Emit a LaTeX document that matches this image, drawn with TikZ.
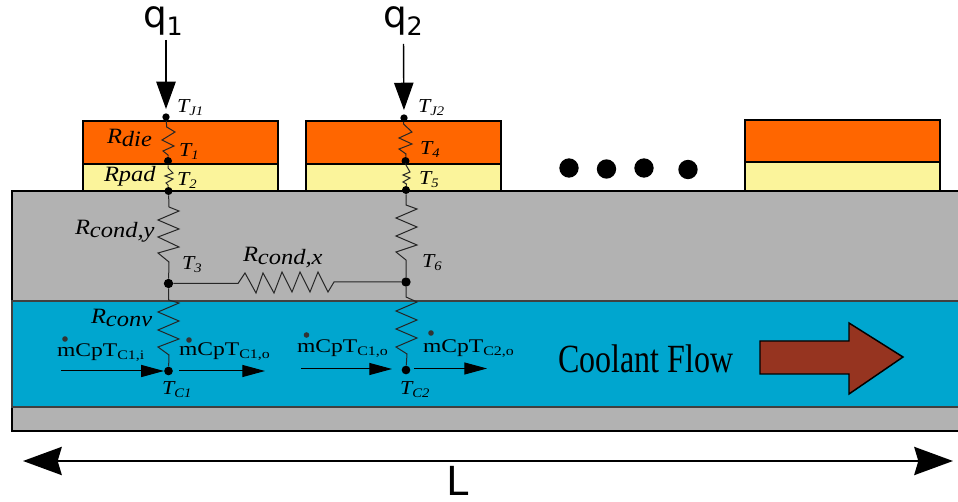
\documentclass[tikz,border=0pt]{standalone}
\usepackage{fontspec}
\usetikzlibrary{arrows.meta}
\setmainfont{Liberation Serif}
\newfontfamily\lab[FakeStretch=1.22]{Liberation Serif}
\newfontfamily\labr[FakeStretch=1.12]{Liberation Serif}
\newfontfamily\flowf[FakeStretch=0.8]{Liberation Serif}
\newfontfamily\djsans{DejaVu Sans}
\newcommand{\Rl}[2]{{\labr\itshape\fontsize{16.4}{16}\selectfont #1\raisebox{-2pt}{\fontsize{16.4}{16}\selectfont #2}}}
\newcommand{\Tl}[2]{{\labr\itshape\fontsize{14.8}{15}\selectfont #1\raisebox{-2.2pt}{\fontsize{9.8}{10}\selectfont #2}}}
\newcommand{\Ml}[1]{{\lab\fontsize{14.5}{15}\selectfont mCpT\raisebox{-2.2pt}{\fontsize{9.8}{10}\selectfont #1}}}
\newcommand{\Ql}[1]{{\djsans\fontsize{28}{28}\selectfont q\raisebox{-6pt}{\fontsize{19}{19}\selectfont #1}}}
\definecolor{orangeC}{HTML}{FF6600}
\definecolor{yellowC}{HTML}{FBF49B}
\definecolor{grayC}{HTML}{B2B2B2}
\definecolor{blueC}{HTML}{00A6CF}
\definecolor{brownC}{HTML}{963420}
\tikzset{
  body/.style={draw=black,line width=2.2pt},
  thinbody/.style={draw=black!75,line width=1pt},
  res/.style={draw=black!85,line width=0.75pt,line join=miter},
  junc/.style={circle,fill=black,inner sep=0pt,minimum size=#1},
  junc/.default=6pt,
  bigdot/.style={circle,fill=black,inner sep=0pt,minimum size=14.5pt},
  mdot/.style={circle,fill=black!80,inner sep=0pt,minimum size=4.2pt},
  lbl/.style={anchor=base west,inner sep=0pt,outer sep=0pt},
  heat/.style={draw=black,line width=1.1pt,-{Triangle[length=20.5pt,width=14.5pt]},shorten >=3pt},
  flowar/.style={draw=black,line width=0.75pt,-{Triangle[length=17pt,width=9pt]}},
  span/.style={draw=black,line width=2.2pt,{Stealth[length=29pt,width=21pt,inset=3pt]}-{Stealth[length=29pt,width=21pt,inset=3pt]}}
}
\begin{document}
\begin{tikzpicture}[x=0.75pt,y=-0.75pt]
\useasboundingbox (0,0) rectangle (958,502);
\clip (0,0) rectangle (958,502);
% substrate and coolant
\path[fill=grayC,body] (12,191) rectangle (975,431);
\path[fill=blueC,thinbody] (12,301) rectangle (975,407);
% chips
\path[fill=orangeC,body] (83,121) rectangle (278,164);
\path[fill=yellowC,body] (83,164) rectangle (278,191);
\path[fill=orangeC,body] (306,121) rectangle (501,164);
\path[fill=yellowC,body] (306,164) rectangle (501,191);
\path[fill=orangeC,body] (745,120) rectangle (940,162);
\path[fill=yellowC,body] (745,162) rectangle (940,191);
\draw[body] (12,431) -- (975,431);
% dots
\node[bigdot] (d1) at (569,168) {};
\node[bigdot] (d2) at (606.5,169) {};
\node[bigdot] (d3) at (644,168) {};
\node[bigdot] (d4) at (688,169.5) {};
% junctions
\node[junc=5.5pt] (TJ1) at (166,117) {};
\node[junc] (T1) at (168,161) {};
\node[junc] (T2) at (168.5,191) {};
\node[junc=7pt] (T3) at (168.5,283.5) {};
\node[junc=6.5pt] (TC1) at (168.5,371) {};
\node[junc=5.5pt] (TJ2) at (404,118) {};
\node[junc] (T4) at (405.5,161) {};
\node[junc] (T5) at (406,190) {};
\node[junc=7pt] (T6) at (406,282) {};
\node[junc=6.5pt] (TC2) at (406,370) {};
% resistors
\draw[res] (TJ1) -- (166.7,127) -- (175,132) -- (162,140) -- (174,146) -- (163,151) -- (168,155) -- (T1);
\draw[res] (T1) -- (168,168) -- (173,173) -- (165,176) -- (173,179) -- (166,183) -- (168,185) -- (T2);
\draw[res] (T2) -- (169,207) -- (179,211) -- (158,220) -- (179,229) -- (158,237) -- (179,247) -- (158,253) -- (169,262) -- (T3);
\draw[res] (T3) -- (168.5,300) -- (179,303) -- (158,312) -- (179,321) -- (158,330) -- (179,339) -- (158,347) -- (169,355) -- (TC1);
\draw[res] (T3) -- (238,283.5) -- (245,273) -- (256,293) -- (263,273) -- (274,293) -- (282,272) -- (292,292) -- (300,272) -- (310,292) -- (318,272) -- (328,292) -- (334,282) -- (T6);
\draw[res] (TJ2) -- (403.5,124) -- (412,132) -- (399,138) -- (412,144) -- (399,149) -- (406,154) -- (T4);
\draw[res] (T4) -- (406,165) -- (410,172) -- (403,175) -- (410,178) -- (403,182) -- (406.5,184) -- (T5);
\draw[res] (T5) -- (406,205) -- (417,209) -- (396,218) -- (417,227) -- (396,236) -- (417,245) -- (396,252) -- (406,260) -- (T6);
\draw[res] (T6) -- (406,297) -- (417,302) -- (396,311) -- (417,320) -- (396,329) -- (417,338) -- (396,347) -- (407,354) -- (TC2);
% heat arrows
\coordinate (q1s) at (166,40);
\coordinate (q2s) at (403.5,44);
\draw[heat] (q1s) -- (TJ1);
\draw[heat] (q2s) -- (TJ2);
\node[lbl] (q1) at (143,28) {\Ql{1}};
\node[lbl] (q2) at (383,28) {\Ql{2}};
% flow arrows
\coordinate (f1) at (61,371);
\coordinate (f2) at (179,371);
\coordinate (f2e) at (265,371);
\coordinate (f3) at (301,369);
\coordinate (f3e) at (392,369);
\coordinate (f4) at (414,368.5);
\coordinate (f4e) at (487,368.5);
\draw[flowar] (f1) -- (TC1);
\draw[flowar] (f2) -- (f2e);
\draw[flowar] (f3) -- (f3e);
\draw[flowar] (f4) -- (f4e);
% labels
\node[lbl] (lJ1) at (177,113) {\Tl{T}{J1}};
\node[lbl] (l1) at (179,157) {\Tl{T}{1}};
\node[lbl] (l2) at (177,186) {\Tl{T}{2}};
\node[lbl] (lJ2) at (418,113) {\Tl{T}{J2}};
\node[lbl] (l4) at (420,155) {\Tl{T}{4}};
\node[lbl] (l5) at (419,185) {\Tl{T}{5}};
\node[lbl] (l3) at (182,270) {\Tl{T}{3}};
\node[lbl] (l6) at (422,268) {\Tl{T}{6}};
\node[lbl] (lC1) at (162,395) {\Tl{T}{C1}};
\node[lbl] (lC2) at (400,395) {\Tl{T}{C2}};
\node[lbl] (rdie) at (107,144) {\Rl{R}{die}};
\node[lbl] (rpad) at (104,182) {{\labr\itshape\fontsize{16.4}{16}\selectfont Rpad}};
\node[lbl] (rcy) at (75,235) {\Rl{R}{cond,y}};
\node[lbl] (rcx) at (243,262) {\Rl{R}{cond,x}};
\node[lbl] (rconv) at (91,324) {\Rl{R}{conv}};
\node[lbl] (m1) at (57,357) {\Ml{C1,i}};
\node[lbl] (m2) at (179,356) {\Ml{C1,o}};
\node[lbl] (m3) at (297,353) {\Ml{C1,o}};
\node[lbl] (m4) at (423,353) {\Ml{C2,o}};
\node[mdot] (md1) at (65,339) {};
\node[mdot] (md2) at (189,340) {};
\node[mdot] (md3) at (306.5,335) {};
\node[mdot] (md4) at (431,333) {};
\node[lbl] (cf) at (558,373) {{\flowf\fontsize{30}{30}\selectfont Coolant Flow}};
% brown arrow
\path[fill=brownC,draw=black,line width=1.1pt] (760,341) -- (849,341) -- (849,323) -- (903,357) -- (849,394) -- (849,374) -- (760,374) -- cycle;
% span arrow
\coordinate (La) at (23,461);
\coordinate (Lb) at (953,461);
\draw[span] (La) -- (Lb);
\node[lbl] (L) at (446,496) {{\djsans\fontsize{30}{30}\selectfont L}};
\end{tikzpicture}
\end{document}
